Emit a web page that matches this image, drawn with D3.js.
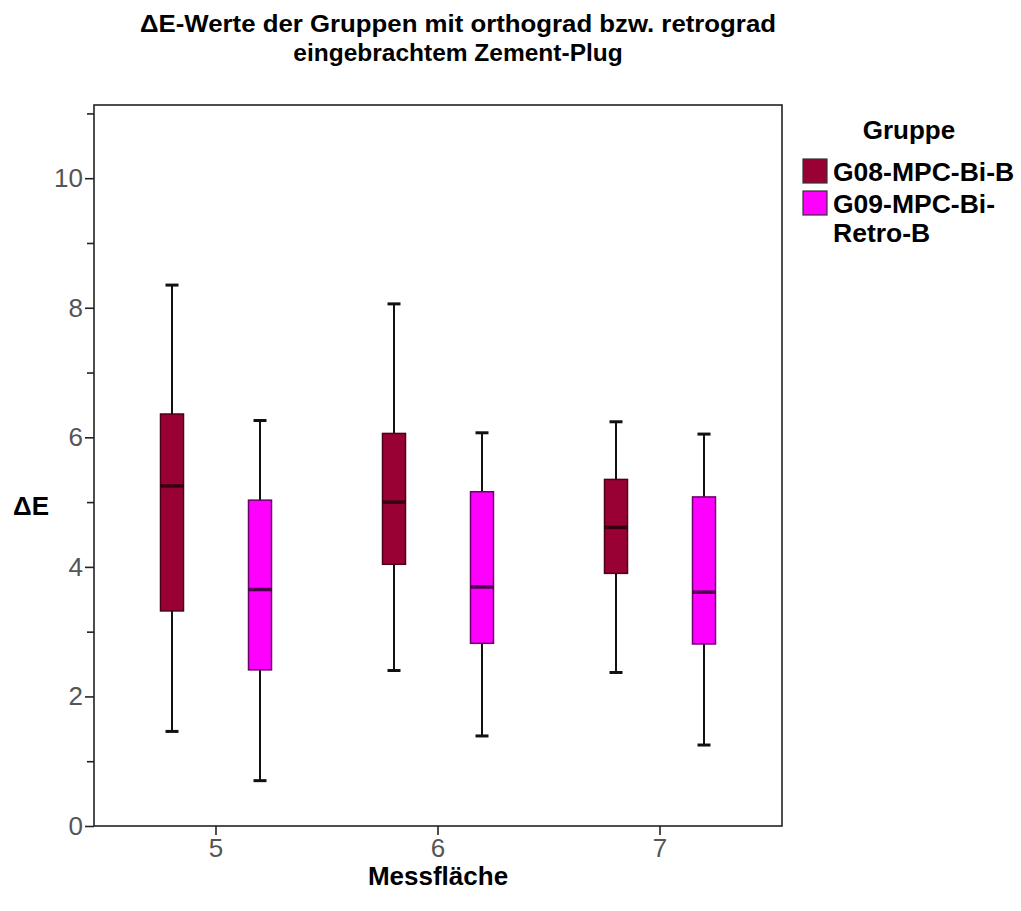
<!DOCTYPE html>
<html>
<head>
<meta charset="utf-8">
<script src="https://cdn.jsdelivr.net/npm/d3@7"></script>
<style>
  html, body { margin: 0; padding: 0; background: #fff; }
  svg { display: block; font-family: "Liberation Sans", Arial, sans-serif; }
</style>
</head>
<body>
<svg id="chart" width="1021" height="911"></svg>
<script>
// ---- data ----
const categories = ["5", "6", "7"];
const groups = ["G08-MPC-Bi-B", "G09-MPC-Bi-Retro-B"];
const groupColors = ["#990033", "#ff00ff"];
const yTicks = [0, 2, 4, 6, 8, 10];
const yMinorTicks = [1, 3, 5, 7, 9, 11];

const g08Min    = [1.46, 2.40, 2.37];
const g08Q1     = [3.32, 4.04, 3.90];
const g08Median = [5.25, 5.00, 4.61];
const g08Q3     = [6.36, 6.06, 5.35];
const g08Max    = [8.35, 8.06, 6.24];

const g09Min    = [0.70, 1.39, 1.25];
const g09Q1     = [2.41, 2.82, 2.81];
const g09Median = [3.65, 3.69, 3.61];
const g09Q3     = [5.03, 5.16, 5.08];
const g09Max    = [6.26, 6.07, 6.05];

const stats = [
  { min: g08Min, q1: g08Q1, med: g08Median, q3: g08Q3, max: g08Max },
  { min: g09Min, q1: g09Q1, med: g09Median, q3: g09Q3, max: g09Max }
];

const boxes = [];
groups.forEach((g, gi) => {
  categories.forEach((c, ci) => {
    boxes.push({
      cat: c, group: g, gi: gi,
      min: stats[gi].min[ci], q1: stats[gi].q1[ci], med: stats[gi].med[ci],
      q3: stats[gi].q3[ci], max: stats[gi].max[ci]
    });
  });
});

// ---- layout ----
const svg = d3.select("#chart");
const frame = { left: 94, top: 105, right: 782, bottom: 826 };

const y = d3.scaleLinear().domain([0, 11.13]).range([frame.bottom, frame.top]);
const x = d3.scaleBand().domain(categories).range([105, 771]);
const xg = d3.scalePoint().domain(groups).range([-44, 44]);
const boxW = 23;
const capW = 13;

// frame
svg.append("rect")
  .attr("x", frame.left).attr("y", frame.top)
  .attr("width", frame.right - frame.left).attr("height", frame.bottom - frame.top)
  .attr("fill", "none").attr("stroke", "#222").attr("stroke-width", 1.6);

// y axis
const yAxis = svg.append("g").attr("transform", `translate(${frame.left},0)`)
  .call(d3.axisLeft(y).tickValues(yTicks).tickSize(9).tickPadding(2).tickFormat(d3.format("d")));
yAxis.select(".domain").remove();
yAxis.selectAll(".tick line").attr("stroke", "#222").attr("stroke-width", 1.6);
yAxis.selectAll(".tick text").attr("font-size", 26).attr("fill", "#555")
  .attr("font-family", "Liberation Sans, Arial, sans-serif");
const yMinor = svg.append("g").attr("transform", `translate(${frame.left},0)`)
  .call(d3.axisLeft(y).tickValues(yMinorTicks).tickSize(7).tickFormat(""));
yMinor.select(".domain").remove();
yMinor.selectAll(".tick line").attr("stroke", "#222").attr("stroke-width", 1.6);

// x axis
const xAxis = svg.append("g").attr("transform", `translate(0,${frame.bottom})`)
  .call(d3.axisBottom(x).tickSize(9).tickPadding(4));
xAxis.select(".domain").remove();
xAxis.selectAll(".tick line").attr("stroke", "#222").attr("stroke-width", 1.6);
xAxis.selectAll(".tick text").attr("font-size", 26).attr("fill", "#555")
  .attr("font-family", "Liberation Sans, Arial, sans-serif");

// boxes
const bx = d => x(d.cat) + x.bandwidth() / 2 + xg(d.group);
const bg = svg.append("g");
const item = bg.selectAll("g.box").data(boxes).join("g").attr("class", "box");

item.append("line")
  .attr("x1", bx).attr("x2", bx)
  .attr("y1", d => y(d.max)).attr("y2", d => y(d.q3))
  .attr("stroke", "#111").attr("stroke-width", 2);
item.append("line")
  .attr("x1", bx).attr("x2", bx)
  .attr("y1", d => y(d.q1)).attr("y2", d => y(d.min))
  .attr("stroke", "#111").attr("stroke-width", 2);
item.append("line")
  .attr("x1", d => bx(d) - capW / 2).attr("x2", d => bx(d) + capW / 2)
  .attr("y1", d => y(d.max)).attr("y2", d => y(d.max))
  .attr("stroke", "#111").attr("stroke-width", 3);
item.append("line")
  .attr("x1", d => bx(d) - capW / 2).attr("x2", d => bx(d) + capW / 2)
  .attr("y1", d => y(d.min)).attr("y2", d => y(d.min))
  .attr("stroke", "#111").attr("stroke-width", 3);
item.append("rect")
  .attr("x", d => bx(d) - boxW / 2).attr("width", boxW)
  .attr("y", d => y(d.q3)).attr("height", d => y(d.q1) - y(d.q3))
  .attr("fill", d => groupColors[d.gi])
  .attr("stroke", d => d.gi === 0 ? "#4d0019" : "#6a006a").attr("stroke-width", 1.5);
item.append("line")
  .attr("x1", d => bx(d) - boxW / 2).attr("x2", d => bx(d) + boxW / 2)
  .attr("y1", d => y(d.med)).attr("y2", d => y(d.med))
  .attr("stroke", d => d.gi === 0 ? "#33000f" : "#4a004a").attr("stroke-width", 3.5);

// title
const title = svg.append("text").attr("text-anchor", "middle")
  .attr("font-weight", "bold").attr("font-size", 24.5).attr("fill", "#000");
title.append("tspan").attr("x", 458).attr("y", 32)
  .attr("textLength", 636).attr("lengthAdjust", "spacingAndGlyphs")
  .text("ΔE-Werte der Gruppen mit orthograd bzw. retrograd");
title.append("tspan").attr("x", 458).attr("y", 61)
  .text("eingebrachtem Zement-Plug");

// axis titles
svg.append("text").attr("x", 13).attr("y", 515)
  .attr("font-weight", "bold").attr("font-size", 26).text("ΔE");
svg.append("text").attr("x", 438).attr("y", 885).attr("text-anchor", "middle")
  .attr("font-weight", "bold").attr("font-size", 26).text("Messfläche");

// legend
const lg = svg.append("g");
lg.append("text").attr("x", 909).attr("y", 139).attr("text-anchor", "middle")
  .attr("font-weight", "bold").attr("font-size", 26).text("Gruppe");
const legendLines = [["G08-MPC-Bi-B"], ["G09-MPC-Bi-", "Retro-B"]];
const lrow = lg.selectAll("g.lrow").data(groups).join("g").attr("class", "lrow")
  .attr("transform", (d, i) => `translate(803,${159 + i * 32})`);
lrow.append("rect").attr("width", 24).attr("height", 24)
  .attr("fill", (d, i) => groupColors[i]).attr("stroke", "#333").attr("stroke-width", 1.2);
lrow.each(function(d, i) {
  const t = d3.select(this).append("text").attr("font-weight", "bold").attr("font-size", 26.5);
  legendLines[i].forEach((s, k) => {
    t.append("tspan").attr("x", 30).attr("y", 22 + k * 29).text(s);
  });
});
</script>
</body>
</html>
